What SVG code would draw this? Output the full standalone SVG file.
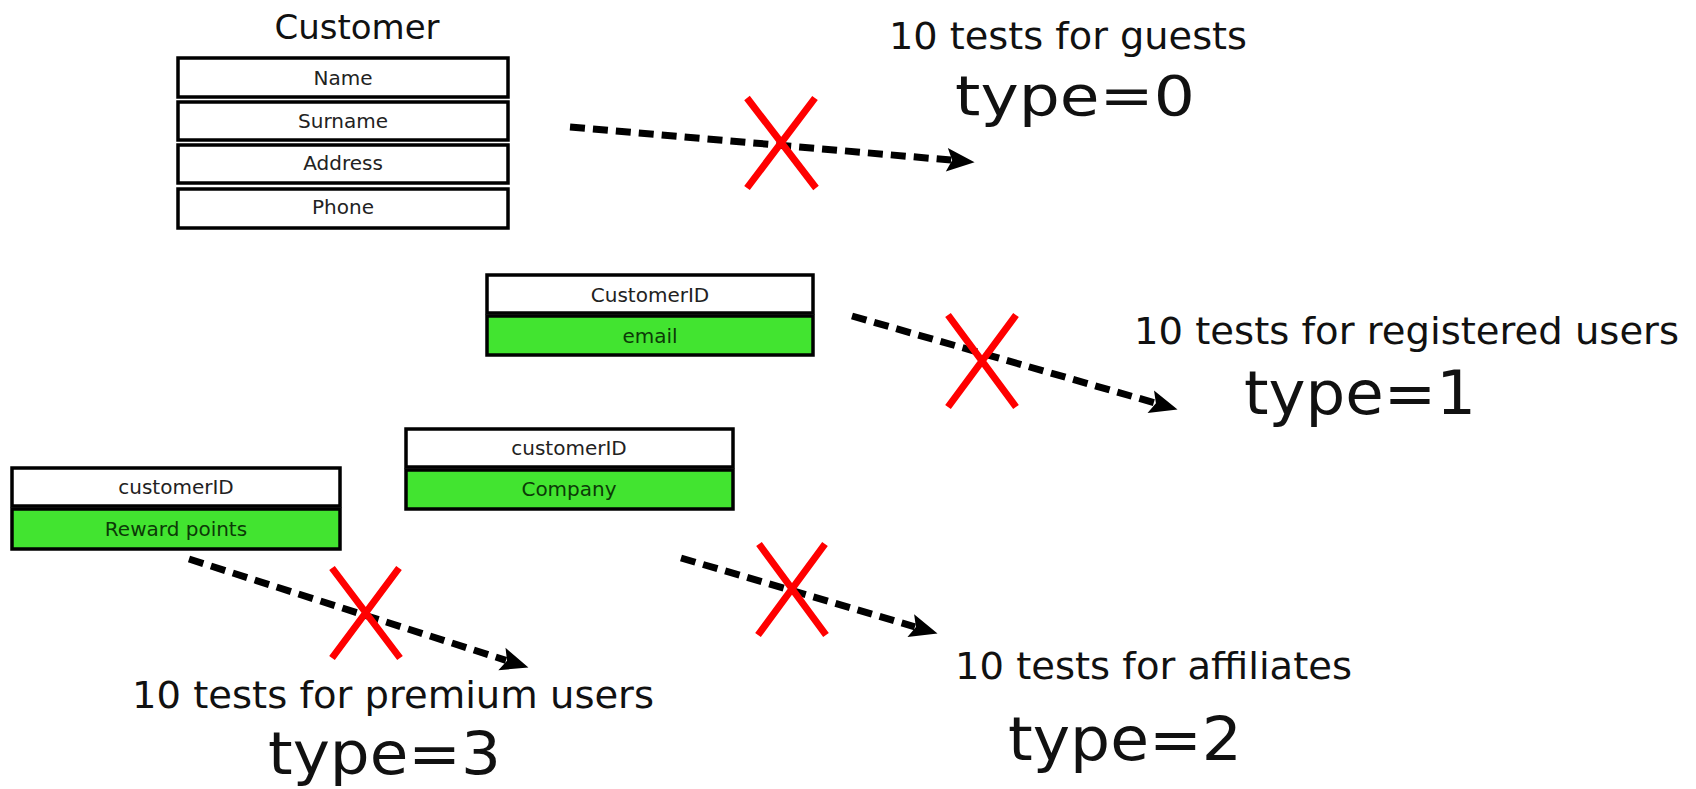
<svg xmlns="http://www.w3.org/2000/svg" width="1696" height="789" viewBox="0 0 1696 789">
<style>
.bx{fill:#ffffff;stroke:#000;stroke-width:3.5}
.gr{fill:#42e430;stroke:#000;stroke-width:3.5}
.t{font-family:"DejaVu Sans",sans-serif;font-size:20px;fill:#222;text-anchor:middle}
.tg{font-family:"DejaVu Sans",sans-serif;font-size:20px;fill:#0c3a07;text-anchor:middle}
.lbl{font-family:"DejaVu Sans",sans-serif;font-size:38px;fill:#111}
.typ{font-family:"DejaVu Sans",sans-serif;font-size:60px;fill:#111}
.dash{fill:none;stroke:#000;stroke-width:7;stroke-dasharray:15 8;marker-end:url(#arr)}
.x{stroke:#f00;stroke-width:7;fill:none}
</style>
<defs>
<marker id="arr" markerUnits="userSpaceOnUse" markerWidth="40" markerHeight="30" viewBox="-6 -14 32 28" refX="0" refY="0" orient="auto">
<path d="M-4,-11 L22,0 L-4,11 L1,0 Z" fill="#000"/>
</marker>
</defs>
<g id="customer">
<text x="357" y="39" style="font-family:'DejaVu Sans',sans-serif;font-size:34px;fill:#111;text-anchor:middle">Customer</text>
<rect class="bx" x="178" y="58" width="330" height="39"/>
<rect class="bx" x="178" y="102" width="330" height="38"/>
<rect class="bx" x="178" y="145" width="330" height="38"/>
<rect class="bx" x="178" y="189" width="330" height="39"/>
<text class="t" x="343" y="85">Name</text>
<text class="t" x="343" y="128">Surname</text>
<text class="t" x="343" y="170">Address</text>
<text class="t" x="343" y="214">Phone</text>
</g>
<g id="registered">
<rect class="bx" x="487" y="275" width="326" height="38"/>
<rect class="gr" x="487" y="316" width="326" height="39"/>
<text class="t" x="650" y="302">CustomerID</text>
<text class="tg" x="650" y="343">email</text>
</g>
<g id="affiliate">
<rect class="bx" x="406" y="429" width="327" height="38"/>
<rect class="gr" x="406" y="470" width="327" height="39"/>
<text class="t" x="569" y="455">customerID</text>
<text class="tg" x="569" y="496">Company</text>
</g>
<g id="premium">
<rect class="bx" x="12" y="468" width="328" height="38"/>
<rect class="gr" x="12" y="509" width="328" height="40"/>
<text class="t" x="176" y="494">customerID</text>
<text class="tg" x="176" y="536">Reward points</text>
</g>
<g id="connectors">
<line class="dash" x1="570" y1="127" x2="951.1" y2="160.1"/>
<line class="dash" x1="852" y1="316" x2="1154.9" y2="402.9"/>
<line class="dash" x1="189" y1="559" x2="506" y2="660.3"/>
<line class="dash" x1="681" y1="558" x2="914.9" y2="626.8"/>
</g>
<g id="crosses">
<path class="x" d="M747,98 L816,188 M815,98 L747,188"/>
<path class="x" d="M948,315 L1016,407 M1016,315 L948,407"/>
<path class="x" d="M332,568 L400,658 M399,568 L332,658"/>
<path class="x" d="M759,544 L826,635 M825,544 L758,635"/>
</g>
<g id="labels">
<text class="lbl" x="889" y="49" textLength="358" lengthAdjust="spacingAndGlyphs">10 tests for guests</text>
<text class="typ" x="955" y="115" style="font-size:56px" textLength="240" lengthAdjust="spacingAndGlyphs">type=0</text>
<text class="lbl" x="1134" y="344" textLength="545" lengthAdjust="spacingAndGlyphs">10 tests for registered users</text>
<text class="typ" x="1244" y="414" textLength="232" lengthAdjust="spacingAndGlyphs">type=1</text>
<text class="lbl" x="955" y="679" textLength="397" lengthAdjust="spacingAndGlyphs">10 tests for affiliates</text>
<text class="typ" x="1008" y="760" textLength="234" lengthAdjust="spacingAndGlyphs">type=2</text>
<text class="lbl" x="132" y="708" textLength="522" lengthAdjust="spacingAndGlyphs">10 tests for premium users</text>
<text class="typ" x="268" y="774" style="font-size:58px" textLength="233" lengthAdjust="spacingAndGlyphs">type=3</text>
</g>
</svg>
